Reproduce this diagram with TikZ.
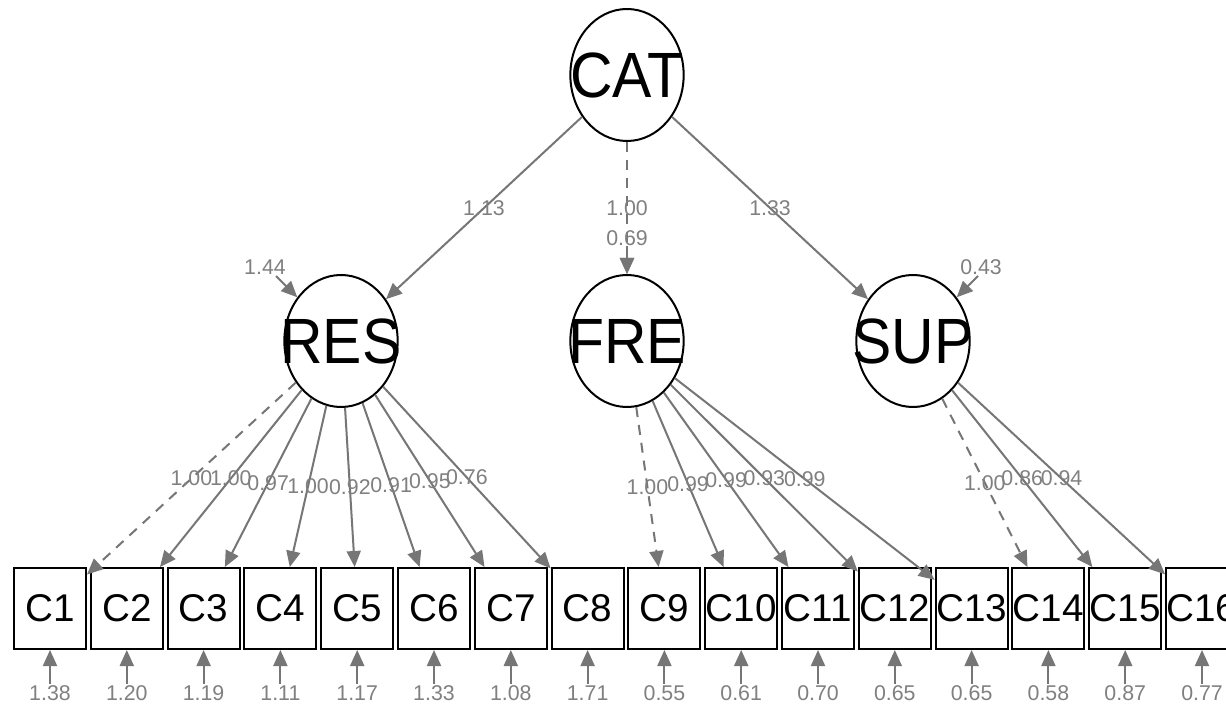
\documentclass[tikz,border=0pt]{standalone}
\usepackage{fontspec}
\setmainfont{Liberation Sans}
\usepackage{graphicx}
\usetikzlibrary{arrows.meta,shapes.geometric}
\definecolor{edgec}{RGB}{118,118,118}
\definecolor{lblc}{RGB}{128,128,128}
\tikzset{
  latent/.style={ellipse, draw=black, line width=1.5pt, minimum width=85pt, minimum height=99pt, inner sep=0pt, font=\fontsize{48}{48}\selectfont},
  manifest/.style={rectangle, draw=black, line width=1.5pt, minimum width=54pt, minimum height=60.75pt, inner sep=0pt, font=\fontsize{29}{29}\selectfont},
  edge/.style={draw=edgec, line width=1.5pt, -{Triangle[length=12pt,width=10.5pt]}},
  fixed/.style={dash pattern=on 7.5pt off 6pt},
  lbl/.style={text=lblc, font=\fontsize{16}{16}\selectfont, inner sep=1pt}
}
\newcommand{\lvname}[1]{\makebox[0pt]{\scalebox{0.92}[1]{#1}}}
\begin{document}
\begin{tikzpicture}[x=0.75pt,y=-0.75pt]
\clip (0,0) rectangle (1226,705);
\fill[white] (0,0) rectangle (1226,705);
% latent variables
\node[latent] (CAT) at (627,75) {\lvname{CAT}};
\node[latent] (RES) at (341,341) {\lvname{RES}};
\node[latent] (FRE) at (627,341) {\lvname{FRE}};
\node[latent] (SUP) at (913,341) {\lvname{SUP}};
% manifest variables with residuals
\foreach \i/\v in {1/1.38,2/1.20,3/1.19,4/1.11,5/1.17,6/1.33,7/1.08,8/1.71,9/0.55,10/0.61,11/0.70,12/0.65,13/0.65,14/0.58,15/0.87,16/0.77}{
  \node[manifest] (C\i) at ({50+(\i-1)*76.8},608.5) {C\i};
  \node[lbl] (v\i) at ({50+(\i-1)*76.8},693) {\v};
  \draw[edge] (v\i.north) -- (C\i);
}
% second-order loadings
\draw[edge] (CAT) -- node[lbl]{1.13} (RES);
\draw[edge,fixed] (CAT) -- node[lbl]{1.00} (FRE);
\draw[edge] (CAT) -- node[lbl]{1.33} (SUP);
% latent residuals
\coordinate (rRES) at (276,276);
\node[lbl] (vRES) at (265,267) {1.44};
\draw[edge] (rRES) -- (RES);
\coordinate (rFRE) at (627,246);
\node[lbl] (vFRE) at (627,238) {0.69};
\draw[edge] (rFRE) -- (FRE);
\coordinate (rSUP) at (978,276);
\node[lbl] (vSUP) at (981,267) {0.43};
\draw[edge] (rSUP) -- (SUP);
% first-order loadings
\draw[edge,fixed] (RES) -- node[lbl]{1.00} (C1);
\foreach \j/\w in {2/1.00,3/0.97,4/1.00,5/0.92,6/0.91,7/0.95,8/0.76}{
  \draw[edge] (RES) -- node[lbl]{\w} (C\j);
}
\draw[edge,fixed] (FRE) -- node[lbl]{1.00} (C9);
\foreach \j/\w in {10/0.99,11/0.99,12/0.93,13/0.99}{
  \draw[edge] (FRE) -- node[lbl]{\w} (C\j);
}
\draw[edge,fixed] (SUP) -- node[lbl]{1.00} (C14);
\foreach \j/\w in {15/0.86,16/0.94}{
  \draw[edge] (SUP) -- node[lbl]{\w} (C\j);
}
\end{tikzpicture}
\end{document}
